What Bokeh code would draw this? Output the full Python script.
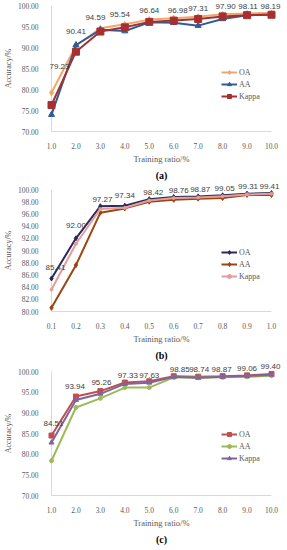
from bokeh.plotting import figure
from bokeh.layouts import column
from bokeh.models import (ColumnDataSource, Legend, LegendItem, Range1d,
                          FixedTicker, PrintfTickFormatter, Title)
from bokeh.core.properties import value
from bokeh.embed import file_html
from bokeh.resources import INLINE

# ---------------- data ----------------
ratio_a = [1.0, 2.0, 3.0, 4.0, 5.0, 6.0, 7.0, 8.0, 9.0, 10.0]
oa_a = [79.23, 90.41, 94.59, 95.54, 96.64, 96.98, 97.31, 97.90, 98.11, 98.19]
aa_a = [74.0, 90.6, 94.2, 93.9, 96.0, 95.9, 95.2, 96.8, 97.7, 97.8]
kappa_a = [76.3, 89.0, 93.8, 94.8, 96.1, 96.4, 96.8, 97.4, 97.7, 97.8]

ratio_b = [0.1, 0.2, 0.3, 0.4, 0.5, 0.6, 0.7, 0.8, 0.9, 1.0]
oa_b = [85.41, 92.00, 97.27, 97.34, 98.42, 98.76, 98.87, 99.05, 99.31, 99.41]
aa_b = [80.6, 87.6, 96.2, 96.9, 98.0, 98.3, 98.5, 98.6, 99.1, 99.1]
kappa_b = [83.6, 91.1, 96.8, 97.0, 98.2, 98.6, 98.7, 98.9, 99.2, 99.3]

ratio_c = [1.0, 2.0, 3.0, 4.0, 5.0, 6.0, 7.0, 8.0, 9.0, 10.0]
oa_c = [84.51, 93.94, 95.26, 97.33, 97.63, 98.85, 98.74, 98.87, 99.06, 99.40]
aa_c = [78.4, 91.3, 93.5, 96.1, 96.1, 98.6, 98.5, 98.6, 98.7, 99.0]
kappa_c = [82.8, 93.1, 94.6, 97.0, 97.3, 98.7, 98.5, 98.7, 98.9, 99.2]

series_names = ["OA", "AA", "Kappa"]
y_ticks_a = [70, 75, 80, 85, 90, 95, 100]
y_ticks_b = [80, 82, 84, 86, 88, 90, 92, 94, 96, 98, 100]
y_ticks_c = [70, 75, 80, 85, 90, 95, 100]
captions = ["(a)", "(b)", "(c)"]

# label offsets (style, screen px; dy = upward shift)
lab_dx_a = [8, 0, -5, -5, 0, 4, 0, 3, 1, -1]
lab_dy_a = [26, 14, 11, 10, 9, 8, 8, 8, 7, 7]
lab_dx_b = [4, 0, 2, 0, 4, 5, 2, 2, 1, -2]
lab_dy_b = [11, 13, 7, 10, 7, 7, 7, 7, 7, 7]
lab_dx_c = [2, -1, 1, 3, 0, 6, 1, -1, 0, -1]
lab_dy_c = [12, 10, 9, 7, 6, 7, 7, 7, 7, 7]

SERIF = "Liberation Serif"
SANS = "Liberation Sans"
GRAY = "#595959"


def make_chart(x, ys, styles, yticks, caption, dx, dy, frame_h,
               border_top, legend_y):
    p = figure(frame_width=220, frame_height=frame_h, output_backend="svg",
               toolbar_location=None,
               x_range=Range1d(x[0], x[-1]), y_range=Range1d(yticks[0], yticks[-1]),
               min_border_left=38, min_border_right=10, min_border_top=border_top,
               min_border_bottom=0)
    p.outline_line_color = None
    p.xgrid.grid_line_color = None
    p.ygrid.grid_line_color = None

    for ax in (p.xaxis[0], p.yaxis[0]):
        ax.major_tick_line_color = None
        ax.minor_tick_line_color = None
        ax.major_label_text_font = SERIF
        ax.major_label_text_font_size = "7.5px"
        ax.major_label_text_color = GRAY
        ax.axis_label_text_font = SERIF
        ax.axis_label_text_font_style = "normal"
        ax.axis_label_text_color = GRAY
        ax.axis_line_color = "#D9D9D9"
    p.xaxis.ticker = FixedTicker(ticks=x)
    p.xaxis.formatter = PrintfTickFormatter(format="%.1f")
    p.xaxis.major_label_standoff = 5
    p.xaxis.axis_label = "Training ratio/%"
    p.xaxis.axis_label_text_font_size = "8.5px"
    p.xaxis.axis_label_standoff = 2
    p.yaxis.ticker = FixedTicker(ticks=yticks)
    p.yaxis.formatter = PrintfTickFormatter(format="%.2f")
    p.yaxis.major_label_standoff = 7
    p.yaxis.axis_label = "Accuracy/%"
    p.yaxis.axis_label_text_font_size = "8px"
    p.yaxis.axis_label_standoff = 2

    items = []
    for name, yv, (color, marker, msize) in zip(series_names, ys, styles):
        src = ColumnDataSource(dict(x=x, y=yv))
        l = p.line("x", "y", source=src, line_color=color, line_width=2, level="overlay")
        s = p.scatter("x", "y", source=src, marker=marker, size=msize,
                      fill_color=color, line_color=color, level="overlay")
        items.append(LegendItem(label=name, renderers=[l, s]))

    lsrc = ColumnDataSource(dict(x=x, y=ys[0], t=["%.2f" % v for v in ys[0]],
                                 dx=dx, dy=[-v for v in dy]))
    p.text("x", "y", text="t", source=lsrc, x_offset="dx", y_offset="dy",
           text_align="center", text_baseline="middle",
           text_font=value(SANS), text_font_size="8px", text_color="#404040",
           level="overlay")

    leg = Legend(items=items, location=(170, legend_y), padding=0, margin=0,
                 spacing=2, label_height=10, glyph_height=10, glyph_width=16,
                 label_standoff=2, label_text_font=SERIF, label_text_font_size="8px",
                 label_text_color=GRAY, background_fill_alpha=0,
                 border_line_color=None)
    p.add_layout(leg)

    t = Title(text=caption, align="center", offset=-14, text_font=SERIF,
              text_font_style="bold", text_font_size="10px", text_color="#000000",
              standoff=2)
    p.add_layout(t, "below")
    return p


pa = make_chart(ratio_a, [oa_a, aa_a, kappa_a],
                [("#F4A66A", "diamond", 6), ("#2E5C9A", "triangle", 6), ("#A5302F", "square", 7)],
                y_ticks_a, captions[0], lab_dx_a, lab_dy_a, 126, 5, 30)
pb = make_chart(ratio_b, [oa_b, aa_b, kappa_b],
                [("#2D2B55", "diamond", 5), ("#99470F", "diamond", 5), ("#E49C9C", "circle", 3)],
                y_ticks_b, captions[1], lab_dx_b, lab_dy_b, 122, 8, 30)
pc = make_chart(ratio_c, [oa_c, aa_c, kappa_c],
                [("#C0504D", "square", 5), ("#9BBB59", "circle", 4), ("#8064A2", "triangle", 5)],
                y_ticks_c, captions[2], lab_dx_c, lab_dy_c, 124, 10, 32)

layout = column(pa, pb, pc, spacing=0)
open("out.html", "w").write(file_html(layout, INLINE))
